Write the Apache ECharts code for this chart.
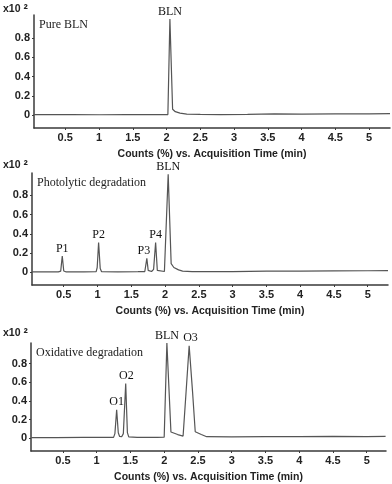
<!DOCTYPE html>
<html>
<head>
<meta charset="utf-8">
<script src="https://cdn.jsdelivr.net/npm/echarts@6/dist/echarts.min.js"></script>
<style>
  html, body { margin: 0; padding: 0; background: #fff; }
  #chart { width: 392px; height: 484px; }
</style>
</head>
<body>
<div id="chart"></div>
<script>
// tick labels
const xTicks = [0.5, 1, 1.5, 2, 2.5, 3, 3.5, 4, 4.5, 5]
const yTicks = [0, 0.2, 0.4, 0.6, 0.8]
const panelNames = ['Pure BLN', 'Photolytic degradation', 'Oxidative degradation']
const xTitle = 'Counts (%) vs. Acquisition Time (min)'

// traces: [time (min), counts x10^2]
const pureTrace = [
  [0.03, 0.005], [0.3, 0.004], [0.6, 0.005], [1.0, 0.003], [1.4, 0.005], [1.8, 0.004],
  [2.02, 0.005], [2.05, 1.0], [2.09, 0.06], [2.13, 0.035], [2.2, 0.02], [2.3, 0.01],
  [2.5, 0.006], [2.8, 0.004], [3.2, 0.006], [3.6, 0.012], [4.0, 0.01], [4.5, 0.013],
  [5.0, 0.012], [5.31, 0.014]
]
const photoTrace = [
  [0.03, 0.005], [0.2, 0.004], [0.42, 0.005], [0.455, 0.012], [0.478, 0.17], [0.5, 0.014],
  [0.53, 0.005], [0.8, 0.004], [0.98, 0.006], [0.995, 0.05], [1.016, 0.31], [1.04, 0.04],
  [1.06, 0.006], [1.3, 0.004], [1.6, 0.006], [1.7, 0.008], [1.73, 0.145], [1.75, 0.02],
  [1.775, 0.006], [1.8, 0.008], [1.83, 0.03], [1.86, 0.31], [1.885, 0.02], [1.91, 0.006],
  [1.99, 0.008], [2.01, 0.02], [2.046, 1.02], [2.09, 0.09], [2.13, 0.05], [2.2, 0.025],
  [2.26, 0.013], [2.4, 0.008], [2.7, 0.006], [3.0, 0.008], [3.5, 0.012], [4.0, 0.013],
  [4.5, 0.015], [5.0, 0.016], [5.3, 0.017]
]
const oxTrace = [
  [0.03, 0.008], [0.4, 0.008], [0.8, 0.01], [1.1, 0.01], [1.25, 0.01], [1.27, 0.05],
  [1.296, 0.306], [1.32, 0.06], [1.34, 0.02], [1.37, 0.017], [1.395, 0.05], [1.43, 0.585],
  [1.455, 0.06], [1.475, 0.015], [1.6, 0.01], [1.9, 0.01], [2.0, 0.012], [2.04, 1.02],
  [2.1, 0.068], [2.2, 0.04], [2.28, 0.024], [2.32, 0.45], [2.37, 0.99], [2.42, 0.5],
  [2.46, 0.07], [2.55, 0.04], [2.63, 0.017], [3.0, 0.015], [3.5, 0.018], [4.0, 0.017],
  [4.5, 0.02], [5.0, 0.018], [5.28, 0.02]
]

// peak labels: [name, time, height]
const purePeaks = [['BLN', 2.05, 1.0]]
const photoPeaks = [
  ['P1', 0.478, 0.17], ['P2', 1.016, 0.31], ['P3', 1.73, 0.145],
  ['P4', 1.86, 0.31], ['BLN', 2.046, 1.02]
]
const oxPeaks = [
  ['O1', 1.296, 0.306], ['O2', 1.44, 0.585], ['BLN', 2.04, 1.02], ['O3', 2.39, 0.99]
]

const traces = [pureTrace, photoTrace, oxTrace]
const peaks = [purePeaks, photoPeaks, oxPeaks]

// panel layout
const panels = [
  { left: 34, top: 15, width: 356, height: 113, xMin: 0.037, xMax: 5.31, yMin: -0.135, yMax: 1.042, unitTop: 3 },
  { left: 32, top: 173, width: 356, height: 112, xMin: 0.03, xMax: 5.3, yMin: -0.132, yMax: 1.032, unitTop: 159 },
  { left: 31, top: 343, width: 355, height: 112, xMin: 0.027, xMax: 5.286, yMin: -0.136, yMax: 1.02, unitTop: 327 }
]

const sans = 'Liberation Sans'
const serif = 'Liberation Serif'
const axisColor = '#3a3a3a'
const tickFont = { fontFamily: sans, fontSize: 11, fontWeight: 'bold', color: '#222' }

const chart = echarts.init(document.getElementById('chart'))

chart.setOption({
  animation: false,
  title: panels.flatMap((p, i) => [
    {
      text: panelNames[i],
      left: p.left + 5,
      top: p.top + 4,
      padding: 0,
      textStyle: { fontFamily: serif, fontSize: 12, fontWeight: 'normal', color: '#222' }
    },
    {
      text: '{a|x10 }{s|²}',
      left: 3,
      top: p.unitTop,
      padding: 0,
      textStyle: {
        rich: {
          a: { fontFamily: sans, fontSize: 10.5, fontWeight: 'bold', color: '#222' },
          s: { fontFamily: sans, fontSize: 13, fontWeight: 'bold', color: '#222' }
        }
      }
    }
  ]),
  grid: panels.map(p => ({ left: p.left, top: p.top, width: p.width, height: p.height })),
  xAxis: panels.map((p, i) => ({
    type: 'value',
    gridIndex: i,
    min: p.xMin,
    max: p.xMax,
    name: xTitle,
    nameLocation: 'middle',
    nameGap: 21,
    nameTextStyle: { fontFamily: sans, fontSize: 10.5, fontWeight: 'bold', color: '#222' },
    axisLine: { onZero: false, lineStyle: { color: axisColor, width: 1.5 } },
    axisTick: { show: true, length: 2, customValues: xTicks, lineStyle: { color: axisColor } },
    axisLabel: Object.assign({ customValues: xTicks, margin: 4 }, tickFont),
    splitLine: { show: false }
  })),
  yAxis: panels.map((p, i) => ({
    type: 'value',
    gridIndex: i,
    min: p.yMin,
    max: p.yMax,
    axisLine: { show: true, onZero: false, lineStyle: { color: axisColor, width: 1.5 } },
    axisTick: { show: true, length: 2, customValues: yTicks, lineStyle: { color: axisColor } },
    axisLabel: Object.assign({ customValues: yTicks, margin: 4 }, tickFont),
    splitLine: { show: false }
  })),
  series: traces.map((trace, i) => ({
    type: 'line',
    xAxisIndex: i,
    yAxisIndex: i,
    data: trace,
    showSymbol: false,
    clip: false,
    lineStyle: { color: '#555', width: 1.2 },
    markPoint: {
      symbol: 'circle',
      symbolSize: 1,
      itemStyle: { color: 'rgba(0,0,0,0)' },
      label: {
        show: true,
        position: 'top',
        distance: 1,
        formatter: '{b}',
        fontFamily: serif,
        fontSize: 12,
        color: '#111'
      },
      data: peaks[i].map(([name, x, y]) => ({
        name: name,
        coord: [x, y],
        label: name === 'P3' ? { offset: [-3, 0] } : undefined
      }))
    }
  }))
})
</script>
</body>
</html>
